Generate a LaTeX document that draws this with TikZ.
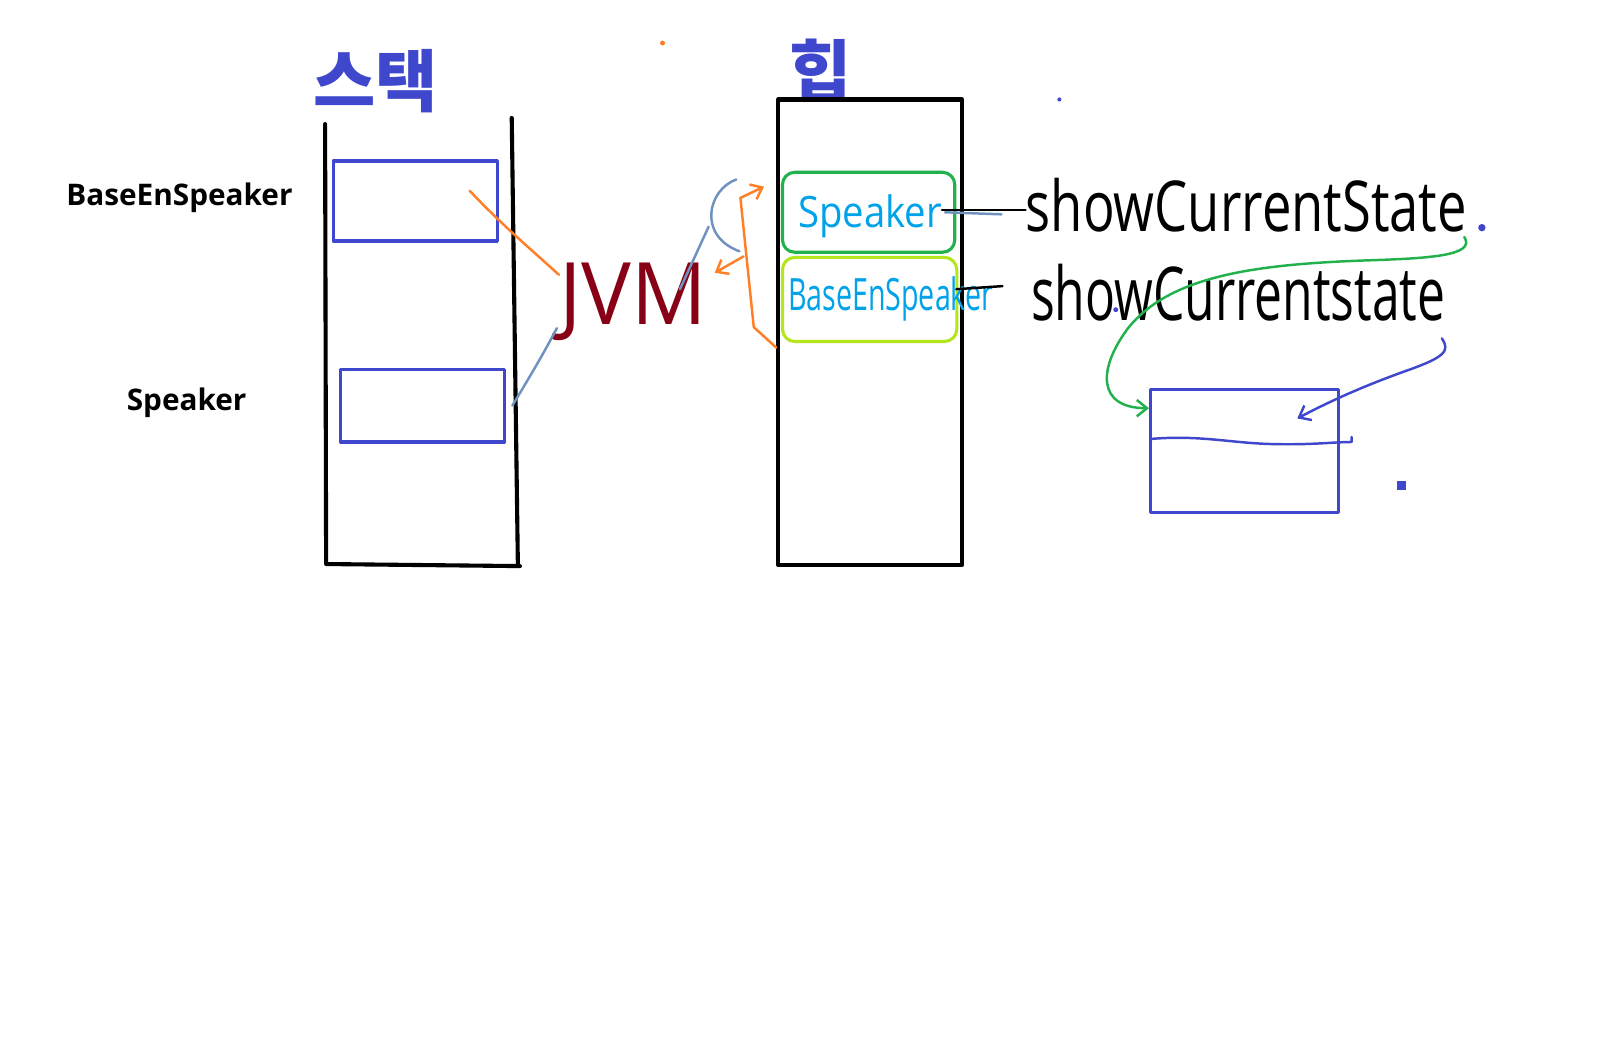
\documentclass[tikz,border=0pt]{standalone}
\usepackage{fontspec}
\usepackage{graphicx}
\setmainfont{Open Sans}
\newfontfamily\kr{Noto Sans CJK KR}
\newfontfamily\handfont{Open Sans}
\usetikzlibrary{arrows.meta}
\definecolor{indigo}{HTML}{3F48CC}
\definecolor{orng}{HTML}{FF7F27}
\definecolor{grn}{HTML}{22B14C}
\definecolor{lime}{HTML}{B5E61D}
\definecolor{turq}{HTML}{00A2E8}
\definecolor{bgray}{HTML}{7092BE}
\definecolor{dred}{HTML}{880015}
\newcommand\hw[3]{\resizebox{#1}{#2}{\handfont #3}}
\begin{document}
\begin{tikzpicture}[x=0.5pt,y=-0.5pt,line cap=round,line join=round,
  wall/.style={line width=2pt,draw=black},
  slot/.style={draw=indigo,line width=1.6pt,inner sep=0pt},
  obj/.style={line width=1.5pt,rounded corners=6pt,inner sep=0pt},
  pen/.style={line width=1.2pt},
  hand/.style={inner sep=0pt,anchor=base west},
  lbl/.style={font=\bfseries\fontsize{14.5}{18}\selectfont,inner sep=0pt},
  title/.style={font=\kr\bfseries\fontsize{33}{36}\selectfont,text=indigo,inner sep=0pt,anchor=base},
  tipb/.style={-{Straight Barb[length=5pt,width=8pt]}}]
\useasboundingbox (0,0) rectangle (1568,1017);
\fill[white] (0,0) rectangle (1568,1017);

% titles
\node[title] (tstack) at (366,104) {스택};
\node[title] (theap) at (800,94) {힙};

% stack
\coordinate (stl) at (317,121);
\coordinate (stbl) at (318,550);
\coordinate (stbr) at (507,552);
\coordinate (str) at (499,115);
\coordinate (strb) at (505,552);
\draw[wall] (stl) -- (stbl) -- (stbr);
\draw[wall] (str) -- (strb);

\node[slot,minimum width=80pt,minimum height=39pt] (sb1) at (405,196) {};
\node[slot,minimum width=80pt,minimum height=35.5pt] (sb2) at (412,395.5) {};

\node[lbl] (l1) at (175,193) {BaseEnSpeaker};
\node[lbl] (l2) at (182,393) {Speaker};

% heap
\node[wall,minimum width=89.5pt,minimum height=227pt,inner sep=0pt] (heap) at (848.5,324) {};
\node[obj,draw=grn,minimum width=84pt,minimum height=39pt] (hspk) at (847,207) {};
\node[obj,draw=lime,minimum width=85pt,minimum height=41pt] (hbase) at (848,292) {};

\node[hand,text=turq] (tspk) at (778,222) {\hw{70pt}{16pt}{Speaker}};
\node[hand,text=turq] (tbase) at (768,303) {\hw{100pt}{16.5pt}{BaseEnSpeaker}};

% JVM
\node[hand,text=dred] (jvm) at (545,316) {\hw{72pt}{30pt}{JVM}};

% method names
\node[hand] (m1) at (1000,226) {\hw{215pt}{26pt}{showCurrentState}};
\node[hand] (m2) at (1005,313) {\hw{202pt}{27.5pt}{showCurrentstate}};

\draw[pen,black] (hspk.east) ++(-14,-2) coordinate (a1) -- (m1.west |- a1);
\draw[pen,bgray] (a1) ++(3,2) -- ++(55,2);
\draw[pen,black] (hbase.east) ++(-2,-10) coordinate (a2) -- ++(45,-3);

% object box
\node[slot,minimum width=91.5pt,minimum height=60pt] (ob) at (1213.5,440) {};
\draw[draw=indigo,line width=1.2pt] (ob.west) ++(2,-12) .. controls (1170,424) and (1200,432) .. (1240,433) .. controls (1280,434) and (1300,431) .. (1318,431) -- (1318,426);

% connectors
\coordinate (o1) at (458,186);
\draw[pen,orng] (o1) .. controls (490,220) and (520,245) .. (jvm.west |- 0,268);
\draw[pen,bgray] (sb2.east) ++(6,0) .. controls (515,370) and (530,345) .. (543,320);
\draw[pen,bgray] (663,282) -- (691,221);
\draw[pen,bgray] (718,175) .. controls (690,185) and (680,230) .. (721,245);
\coordinate (br1) at (722,193);
\coordinate (br2) at (735,319);
\draw[pen,orng,tipb] (br1) -- (745,182);
\draw[pen,orng] (br1) -- (br2) -- (heap.west |- 0,339);
\draw[pen,orng,tipb] (725,250) -- (697,266);

\draw[pen,grn,tipb] (m1.south east) ++(-3,4) .. controls (1440,250) and (1390,252) .. (1330,254)
  .. controls (1220,258) and (1140,270) .. (1100,320)
  .. controls (1070,360) and (1070,398) .. (ob.west |- 0,398);
\draw[pen,indigo,tipb] (1406,330) .. controls (1414,342) and (1410,348) .. (1370,362) .. controls (1320,380) and (1290,395) .. (1265,408);

% dots
\fill[orng] (646,42) circle (1.2pt);
\fill[indigo] (1033,97) circle (1pt);
\fill[indigo] (1445,222) circle (1.8pt);
\fill[indigo] (1088,302) circle (1.2pt);
\fill[indigo] (1362,469) rectangle (1371,478);
\end{tikzpicture}
\end{document}
